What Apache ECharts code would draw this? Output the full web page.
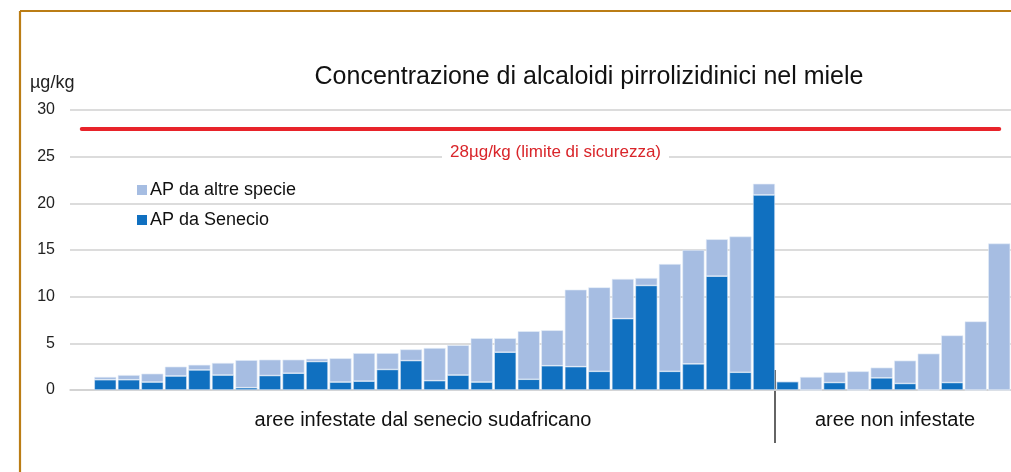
<!DOCTYPE html>
<html>
<head>
<meta charset="utf-8">
<script src="https://cdn.jsdelivr.net/npm/echarts@6/dist/echarts.min.js"></script>
<style>
html,body{margin:0;padding:0;background:#fff;overflow:hidden;}
#chart{width:1011px;height:472px;}
</style>
</head>
<body>
<div id="chart"></div>
<script>
// Samples (first band is an empty spacer, as in the original layout)
const categories = ['', '1','2','3','4','5','6','7','8','9','10','11','12','13','14','15','16','17','18','19','20',
  '21','22','23','24','25','26','27','28','29','30','31','32','33','34','35','36','37','38','39'];
// AP da Senecio (µg/kg)
const senecio = ['-', 1.1,1.1,0.85,1.5,2.15,1.6,0.25,1.55,1.8,3.05,
  0.85,0.95,2.2,3.15,1.0,1.6,0.85,4.05,1.15,2.6,
  2.5,2.0,7.65,11.2,2.0,2.8,12.2,1.9,20.9,
  0.9,0,0.8,0,1.3,0.7,0,0.8,0,0];
// AP da altre specie (µg/kg)
const altre = ['-', 0.3,0.5,0.9,1.0,0.55,1.3,2.95,1.7,1.45,0.3,
  2.55,3.0,1.75,1.2,3.5,3.2,4.7,1.5,5.15,3.8,
  8.25,9.0,4.25,0.8,11.5,12.2,3.95,14.55,1.2,
  0,1.4,1.1,2.0,1.1,2.45,3.9,5.05,7.35,15.7];
const yTicks = {min: 0, max: 30, interval: 5};
const limitValue = 28;
const limitLabel = '28µg/kg (limite di sicurezza)';
const titleText = 'Concentrazione di alcaloidi pirrolizidinici nel miele';
const unitText = 'µg/kg';
const groupLabels = ['aree infestate dal senecio sudafricano', 'aree non infestate'];
const seriesNames = ['AP da altre specie', 'AP da Senecio'];

const FONT = '"Liberation Sans", Arial, sans-serif';
const DARK = '#1070c0';
const LIGHT = '#a6bde2';

const chart = echarts.init(document.getElementById('chart'), null, {renderer: 'canvas'});
chart.setOption({
  animation: false,
  backgroundColor: '#fff',
  textStyle: {fontFamily: FONT},
  title: {
    text: titleText,
    left: 584, top: 60, textAlign: 'center',
    textStyle: {fontFamily: FONT, fontSize: 25, fontWeight: 'normal', color: '#111'}
  },
  legend: {
    orient: 'vertical', left: 132, top: 176,
    itemWidth: 10, itemHeight: 10, itemGap: 12,
    icon: 'rect',
    itemStyle: {borderWidth: 0},
    data: [seriesNames[0], seriesNames[1]],
    textStyle: {fontFamily: FONT, fontSize: 18, color: '#111', padding: [0,0,0,-2]}
  },
  grid: {left: 70, top: 110, width: 942, height: 280, containLabel: false},
  xAxis: {
    type: 'category', data: categories,
    axisLine: {show: true, lineStyle: {color: '#d0d0d0', width: 1.5}},
    axisTick: {show: false}, axisLabel: {show: false}
  },
  yAxis: {
    type: 'value', min: yTicks.min, max: yTicks.max, interval: yTicks.interval,
    axisLine: {show: false}, axisTick: {show: false},
    axisLabel: {margin: 15, fontFamily: FONT, fontSize: 16, color: '#222'},
    splitLine: {lineStyle: {color: '#d0d0d0', width: 1.5}}
  },
  series: [
    {
      name: seriesNames[1], type: 'bar', stack: 'ap', data: senecio,
      barWidth: 22, itemStyle: {color: DARK, borderColor: '#dfeaf6', borderWidth: 0.6},
      markLine: {
        silent: true, symbol: 'none',
        lineStyle: {color: '#e8232a', width: 4, type: 'solid', cap: 'round'},
        label: {
          show: true, formatter: limitLabel, position: 'insideMiddleBottom',
          color: '#d9252a', fontFamily: FONT, fontSize: 17,
          backgroundColor: '#fff', padding: [1, 8], offset: [15, 9]
        },
        data: [[{coord: [0, limitValue]}, {coord: [39, limitValue]}]]
      }
    },
    {
      name: seriesNames[0], type: 'bar', stack: 'ap', data: altre,
      barWidth: 22, itemStyle: {color: LIGHT, borderColor: '#e6eef8', borderWidth: 0.6}
    }
  ],
  graphic: [
    {type: 'line', shape: {x1: 20, y1: 11, x2: 1030, y2: 11}, style: {stroke: '#bb7d15', lineWidth: 2.2}},
    {type: 'line', shape: {x1: 20, y1: 11, x2: 20, y2: 480}, style: {stroke: '#bb7d15', lineWidth: 2.2}},
    {type: 'text', left: 30, top: 74, style: {text: unitText, font: '18px ' + FONT, fill: '#222'}},
    {type: 'line', shape: {x1: 775, y1: 370, x2: 775, y2: 443}, style: {stroke: '#111', lineWidth: 1.3}},
    {type: 'text', x: 423, y: 420, style: {text: groupLabels[0], font: '20px ' + FONT, fill: '#111', textAlign: 'center', textVerticalAlign: 'middle'}},
    {type: 'text', x: 895, y: 420, style: {text: groupLabels[1], font: '20px ' + FONT, fill: '#111', textAlign: 'center', textVerticalAlign: 'middle'}}
  ]
});
</script>
</body>
</html>
